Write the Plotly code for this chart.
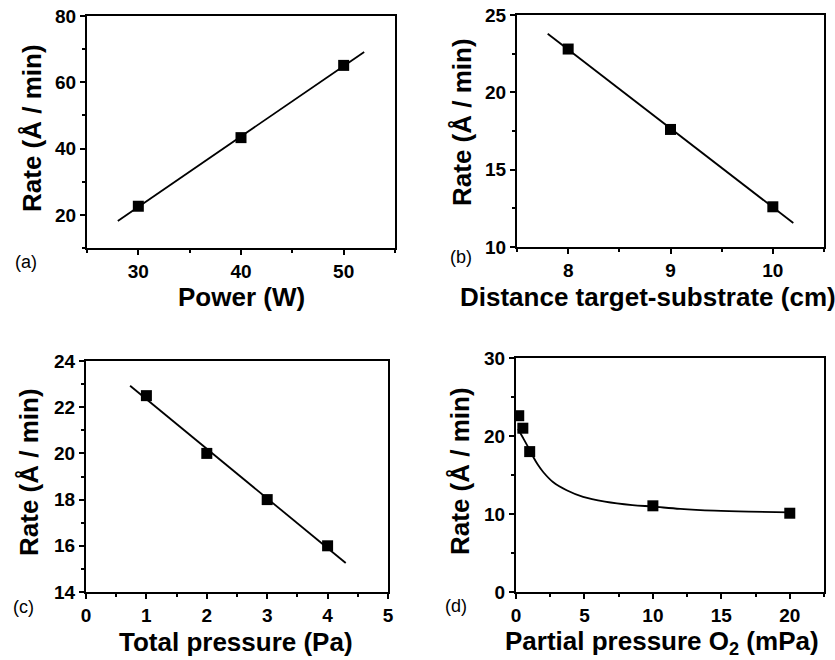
import numpy as np
import plotly.graph_objects as go
from plotly.subplots import make_subplots

# ---------------- data ----------------
power_w = [30, 40, 50]
rate_a = [22.6, 43.3, 65.1]
fit_range_a = [28.0, 52.0]

distance_cm = [8, 9, 10]
rate_b = [22.8, 17.6, 12.6]
fit_range_b = [7.8, 10.2]

total_pressure_pa = [1, 2, 3, 4]
rate_c = [22.5, 20.0, 18.0, 16.0]
fit_range_c = [0.73, 4.3]

o2_pressure_mpa = [0.2, 0.5, 1.0, 10.0, 20.0]
rate_d = [22.6, 21.0, 18.0, 11.05, 10.1]
# smooth guide curve of panel (d)
curve_d_x = [0.15, 0.5, 1.0, 1.25, 1.6, 2.0, 2.7, 3.7, 4.9, 6.5, 8.5, 10.0, 12.0, 14.5, 17.0, 20.0]
curve_d_y = [20.9, 19.8, 18.2, 17.35, 16.3, 15.35, 14.1, 13.05, 12.2, 11.6, 11.15, 10.95, 10.65, 10.42, 10.3, 10.22]

panel_labels = ["(a)", "(b)", "(c)", "(d)"]
x_titles = ["Power (W)", "Distance target-substrate (cm)",
            "Total pressure (Pa)", "Partial pressure O<sub>2</sub> (mPa)"]
y_title = "Rate (Å / min)"

# ---------------- figure ----------------
W, H = 835, 660
FONT = "Liberation Sans, Arial, Helvetica, sans-serif"

fig = make_subplots(rows=2, cols=2)


def fit_line(x, y, rng):
    k, b = np.polyfit(x, y, 1)
    xs = np.array(rng)
    return xs, k * xs + b


marker = dict(symbol="square", size=11, color="black")
line = dict(color="black", width=1.8)

for (xd, yd, rng), (r, c) in zip(
        [(power_w, rate_a, fit_range_a), (distance_cm, rate_b, fit_range_b),
         (total_pressure_pa, rate_c, fit_range_c)],
        [(1, 1), (1, 2), (2, 1)]):
    fx, fy = fit_line(xd, yd, rng)
    fig.add_trace(go.Scatter(x=fx, y=fy, mode="lines", line=line, showlegend=False,
                             hoverinfo="skip"), row=r, col=c)
    fig.add_trace(go.Scatter(x=xd, y=yd, mode="markers", marker=marker, showlegend=False),
                  row=r, col=c)

fig.add_trace(go.Scatter(x=curve_d_x, y=curve_d_y, mode="lines",
                         line=dict(color="black", width=1.8, shape="spline", smoothing=1.0),
                         showlegend=False, hoverinfo="skip"), row=2, col=2)
fig.add_trace(go.Scatter(x=o2_pressure_mpa, y=rate_d, mode="markers", marker=marker,
                         showlegend=False), row=2, col=2)

# pixel boxes of the four plot areas: (left, right, top, bottom)
boxes = [(87, 395, 16, 248), (517, 824, 15, 247), (86, 388, 361, 592), (516, 824, 358, 592)]
x_specs = [dict(range=[25, 55], tick0=0, dtick=10, minor=5),
           dict(range=[7.5, 10.5], tick0=0, dtick=1, minor=0.5),
           dict(range=[0, 5], tick0=0, dtick=1, minor=0.5),
           dict(range=[0, 22.5], tick0=0, dtick=5, minor=2.5)]
y_specs = [dict(range=[10, 80], tick0=0, dtick=20, minor=10),
           dict(range=[10, 25], tick0=0, dtick=5, minor=2.5),
           dict(range=[14, 24], tick0=0, dtick=2, minor=1),
           dict(range=[0, 30], tick0=0, dtick=10, minor=5)]

tickfont = dict(family=FONT, size=19, color="black", weight="bold")

for i, (box, xs, ys) in enumerate(zip(boxes, x_specs, y_specs)):
    l, rr, t, b = box
    sfx = "" if i == 0 else str(i + 1)
    common = dict(showline=True, linecolor="black", linewidth=2, mirror=True,
                  ticks="outside", ticklen=5, tickwidth=2, tickcolor="black",
                  showgrid=False, zeroline=False, tickfont=tickfont, automargin=False)
    fig.layout["xaxis" + sfx].update(
        domain=[l / W, rr / W], range=xs["range"], tickmode="linear",
        tick0=xs["tick0"], dtick=xs["dtick"],
        minor=dict(dtick=xs["minor"], tick0=0, ticks="outside", ticklen=3,
                   tickwidth=1.5, tickcolor="black"),
        **common)
    fig.layout["yaxis" + sfx].update(
        domain=[1 - b / H, 1 - t / H], range=ys["range"], tickmode="linear",
        tick0=ys["tick0"], dtick=ys["dtick"],
        minor=dict(dtick=ys["minor"], tick0=0, ticks="outside", ticklen=3,
                   tickwidth=1.5, tickcolor="black"),
        **common)

# axis titles and panel labels (pixel positions converted to paper coords)
title_font = dict(family=FONT, size=26, color="black", weight="bold")
x_title_pos = [(241, 297), (648, 297), (236, 642), (662, 642)]
y_title_pos = [(32, 128), (462, 122), (29, 472), (460, 471)]
label_pos = [(26, 262), (461, 257), (23, 607), (456, 606)]

for i in range(4):
    xp, yp = x_title_pos[i]
    fig.add_annotation(x=xp / W, y=1 - yp / H, xref="paper", yref="paper",
                       text=x_titles[i], showarrow=False, font=title_font,
                       xanchor="center", yanchor="middle")
    xp, yp = y_title_pos[i]
    fig.add_annotation(x=xp / W, y=1 - yp / H, xref="paper", yref="paper",
                       text=y_title, showarrow=False, font=title_font, textangle=-90,
                       xanchor="center", yanchor="middle")
    xp, yp = label_pos[i]
    fig.add_annotation(x=xp / W, y=1 - yp / H, xref="paper", yref="paper",
                       text=panel_labels[i], showarrow=False,
                       font=dict(family=FONT, size=18, color="black"),
                       xanchor="center", yanchor="middle")

fig.update_layout(width=W, height=H, margin=dict(l=0, r=0, t=0, b=0, autoexpand=False),
                  paper_bgcolor="white", plot_bgcolor="white", showlegend=False)

fig.write_html("out.html")
